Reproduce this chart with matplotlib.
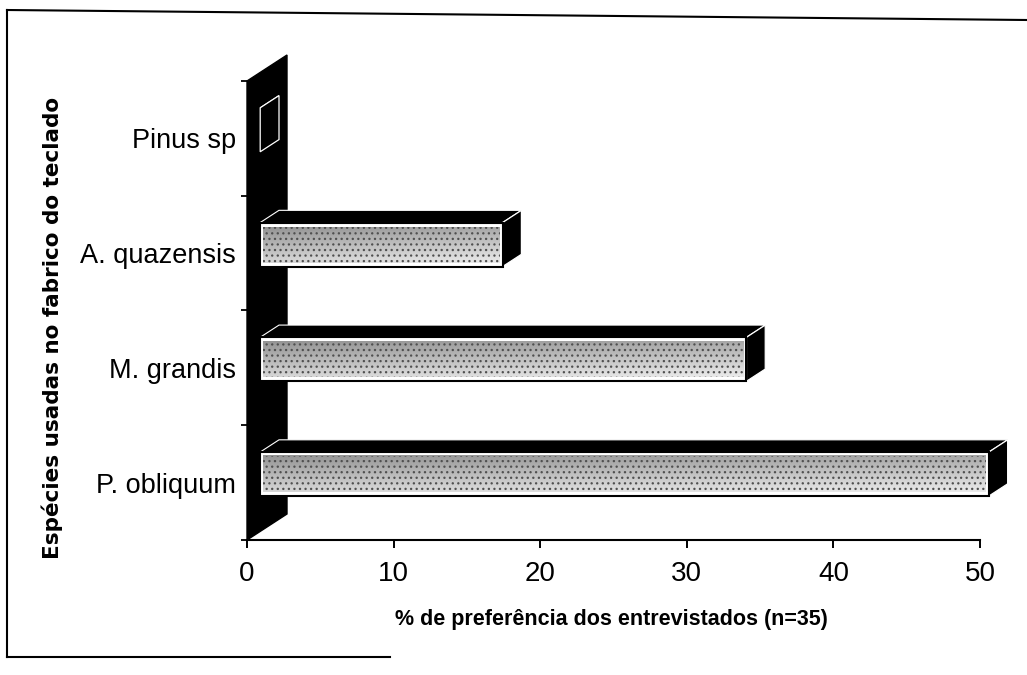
import numpy as np
import matplotlib
matplotlib.use('Agg')
import matplotlib.pyplot as plt
from matplotlib.patches import Polygon, Rectangle
from matplotlib.lines import Line2D

plt.rcParams['font.family'] = ['Liberation Sans', 'DejaVu Sans']
plt.rcParams['hatch.linewidth'] = 0.9

# data (bottom to top, as drawn)
species = ['P. obliquum', 'M. grandis', 'A. quazensis', 'Pinus sp']
percent = [51.4, 34.3, 17.1, 0.0]
xticks = [0, 10, 20, 30, 40, 50]

W, H = 1027, 675
fig = plt.figure(figsize=(W / 100, H / 100), dpi=100)
ax = fig.add_axes([247 / W, 135 / H, 733 / W, 459 / H])
ax.set_xlim(0, 50)
ax.set_ylim(-0.5, 3.5)

# 3d look: depth vector of the side wall (data units) and where the bars sit in it
px_x = 733 / 50
px_y = 459 / 4
DX, DY = 40 / px_x, 26 / px_y
f_front, f_back = 0.33, 0.80
plane_scale = 0.967
bar_h = 44 / px_y

# black side wall at x = 0
wall = Polygon([(0, -0.5), (DX, -0.5 + DY), (DX, 3.5 + DY), (0, 3.5)],
               closed=True, facecolor='black', edgecolor='black', lw=1, zorder=1,
               clip_on=False)
ax.add_patch(wall)

gy, gx = np.mgrid[0:1:40j, 0:1:200j]
shade = 0.58 + 0.26 * gy + 0.08 * gx

ddx, ddy = (f_back - f_front) * DX, (f_back - f_front) * DY
for i, (name, v) in enumerate(zip(species, percent)):
    x0 = f_front * DX
    x1 = x0 + v * plane_scale
    yb = i - bar_h / 2 + f_front * DY
    yt = i + bar_h / 2 + f_front * DY

    top = Polygon([(x0, yt), (x1, yt), (x1 + ddx, yt + ddy), (x0 + ddx, yt + ddy)],
                  closed=True, facecolor='black', edgecolor='white', lw=0.8,
                  zorder=2, clip_on=False)
    side = Polygon([(x1, yb), (x1, yt), (x1 + ddx, yt + ddy), (x1 + ddx, yb + ddy)],
                   closed=True, facecolor='black', edgecolor='white', lw=0.9,
                   zorder=3, clip_on=False)
    ax.add_patch(top)
    ax.add_patch(side)
    if v > 0:
        front = Rectangle((x0, yb), x1 - x0, yt - yb, facecolor='white',
                          edgecolor='black', lw=1.5, zorder=4, clip_on=False)
        ax.add_patch(front)
        mx, my = 3 / px_x, 4 / px_y
        ext = [x0 + mx, x1 - mx, yb + my, yt - my]
        im = ax.imshow(shade, cmap='gray', vmin=0, vmax=1, aspect='auto',
                       extent=ext, interpolation='bilinear', zorder=5)
        im.set_clip_on(False)
        speckle = Rectangle((ext[0], ext[2]), ext[1] - ext[0], ext[3] - ext[2],
                            facecolor='none', edgecolor='#505050', lw=0,
                            hatch='...', zorder=6, clip_on=False)
        ax.add_patch(speckle)

ax.set_xlim(0, 50)
ax.set_ylim(-0.5, 3.5)

for s in ['top', 'right', 'left']:
    ax.spines[s].set_visible(False)
ax.spines['bottom'].set_linewidth(1.5)
ax.spines['bottom'].set_zorder(7)

ax.set_xticks(xticks)
ax.set_xticklabels([str(t) for t in xticks], fontsize=20)
ax.tick_params(axis='x', direction='out', length=6, width=1.4, pad=9)

ax.set_yticks(range(len(species)))
ax.set_yticklabels(species, fontsize=19.5)
ax.tick_params(axis='y', which='major', length=0, pad=8)
ax.set_yticks([-0.5, 0.5, 1.5, 2.5, 3.5], minor=True)
ax.tick_params(axis='y', which='minor', direction='out', length=4, width=1.3)

ax.set_xlabel('% de preferência dos entrevistados (n=35)', fontsize=15.5,
              fontweight='bold', va='center')
ax.xaxis.set_label_coords(0.497, -0.174)
ax.set_ylabel('Espécies usadas no fabrico do teclado', fontsize=15.5,
              fontweight='bold', va='center', family=['DejaVu Sans'])
ax.yaxis.set_label_coords((52 - 247) / 733, (540 - 328) / 459)

# scanned page frame
fig.add_artist(Line2D([7 / W, 7 / W], [1 - 657 / H, 1 - 10 / H],
                      transform=fig.transFigure, color='black', lw=1.5))
fig.add_artist(Line2D([7 / W, 1.0], [1 - 10 / H, 1 - 20 / H],
                      transform=fig.transFigure, color='black', lw=1.5))
fig.add_artist(Line2D([7 / W, 390 / W], [1 - 657 / H, 1 - 657 / H],
                      transform=fig.transFigure, color='black', lw=1.5))

fig.savefig('out.png', dpi=100)
